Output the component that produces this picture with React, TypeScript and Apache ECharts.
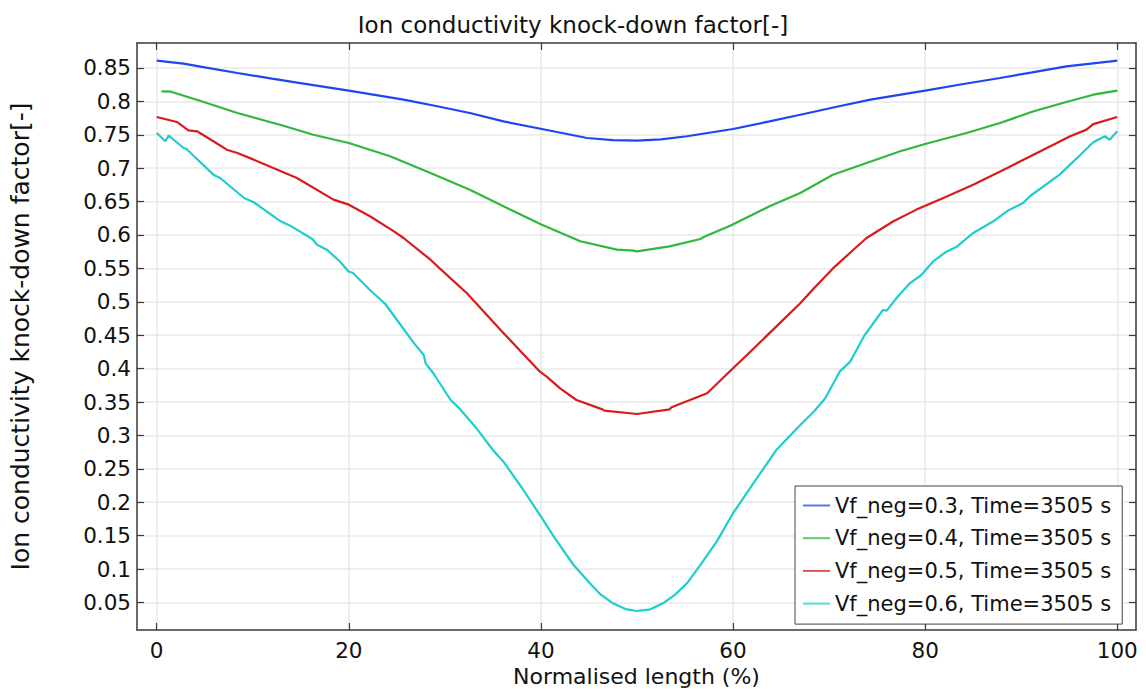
import React, { useEffect, useRef } from "react";
import * as echarts from "echarts";

const xTicks = [0, 20, 40, 60, 80, 100];
const yTicks = [0.05, 0.1, 0.15, 0.2, 0.25, 0.3, 0.35, 0.4, 0.45, 0.5, 0.55, 0.6, 0.65, 0.7, 0.75, 0.8, 0.85];

const seriesNames = [
  "Vf_neg=0.3, Time=3505 s",
  "Vf_neg=0.4, Time=3505 s",
  "Vf_neg=0.5, Time=3505 s",
  "Vf_neg=0.6, Time=3505 s",
];

const vf03: number[][] = [
  [0, 0.861], [2.8, 0.8565], [5, 0.851], [8.4, 0.8425], [12, 0.834], [15.3, 0.8265], [20, 0.816],
  [25.7, 0.8026], [29.2, 0.7927], [32.6, 0.7826], [36.1, 0.770], [40.1, 0.7587], [44.8, 0.7452],
  [47.5, 0.742], [50, 0.7412], [52.5, 0.743], [55.2, 0.7478], [60, 0.7587], [63.8, 0.770], [67, 0.780],
  [70.8, 0.792], [74.3, 0.8026], [80, 0.816], [84, 0.826], [87.8, 0.835], [91, 0.843], [94.7, 0.8525],
  [97.5, 0.857], [100, 0.861],
];

const vf04: number[][] = [
  [0.5, 0.815], [1.5, 0.8145], [4.9, 0.799], [8.4, 0.7826], [13.2, 0.7636], [16.3, 0.75], [20, 0.7377],
  [24.3, 0.7178], [28.5, 0.6928], [32.6, 0.6678], [36.1, 0.643], [40.1, 0.6154], [44.1, 0.5906],
  [47.9, 0.578], [49.6, 0.5765], [50, 0.5756], [53.4, 0.583], [56.6, 0.594], [57, 0.5975], [59.7, 0.614],
  [63.8, 0.643], [67, 0.6629], [70.4, 0.6903], [73.9, 0.7078], [77.4, 0.7253], [80, 0.7362],
  [84.3, 0.7527], [87.8, 0.7677], [91.3, 0.7852], [94.7, 0.799], [97.5, 0.81], [100, 0.816],
];

const vf05: number[][] = [
  [0, 0.7766], [2.1, 0.7692], [3.3, 0.7567], [4.2, 0.7552], [5.9, 0.7403], [7.3, 0.7277], [8.4, 0.7227],
  [10.1, 0.7128], [14.6, 0.6853], [18.4, 0.6529], [20, 0.6454], [22.2, 0.628], [24.7, 0.6055],
  [25.7, 0.5955], [28.5, 0.563], [30, 0.543], [32.3, 0.5127], [35.8, 0.4578], [39.9, 0.3954],
  [40.6, 0.388], [42, 0.3705], [43.7, 0.353], [46.4, 0.339], [46.6, 0.337], [50, 0.332], [53.4, 0.339],
  [53.6, 0.342], [57.3, 0.363], [60, 0.4004], [61.8, 0.4253], [65, 0.47], [67, 0.4978], [68.4, 0.52],
  [70.4, 0.55], [72.5, 0.5775], [73.9, 0.5955], [76.7, 0.6205], [79.1, 0.638], [81.9, 0.6554],
  [85, 0.6753], [88.5, 0.70], [92, 0.7253], [95.1, 0.7478], [96.8, 0.7577], [97.5, 0.766], [100, 0.7766],
];

const vf06: number[][] = [
  [0, 0.7527], [0.9, 0.7403], [1.25, 0.7487], [2.8, 0.7302], [3.1, 0.7287], [5.9, 0.6903], [6.6, 0.6853],
  [9.1, 0.6554], [10.1, 0.649], [12.9, 0.6205], [13.9, 0.614], [16.2, 0.594], [16.7, 0.5855],
  [17.7, 0.578], [19.1, 0.56], [20, 0.545], [20.4, 0.5435], [22.2, 0.5177], [23.8, 0.4967],
  [25.4, 0.4653], [26.8, 0.4378], [27.8, 0.4204], [28, 0.4079], [28.8, 0.393], [30.6, 0.353],
  [31.4, 0.342], [33.3, 0.3106], [35, 0.2781], [36.1, 0.2606], [38, 0.222], [39.9, 0.1808],
  [41.5, 0.145], [43.4, 0.106], [45.1, 0.0786], [46.2, 0.062], [47.5, 0.0486], [48.8, 0.04],
  [50, 0.0371], [51.4, 0.0397], [52.7, 0.0486], [54, 0.062], [55.2, 0.0786], [56.7, 0.108],
  [58.3, 0.141], [60, 0.1835], [62.2, 0.23], [64.5, 0.2781], [67, 0.3156], [68.4, 0.3355],
  [69.6, 0.3555], [71.1, 0.3954], [72.2, 0.4104], [73.6, 0.4478], [75.6, 0.4877], [76, 0.4867],
  [77, 0.5052], [78.4, 0.5277], [79.6, 0.5401], [80.8, 0.56], [82.2, 0.575], [83.3, 0.5825],
  [85, 0.603], [87.1, 0.6205], [88.5, 0.6355], [90.2, 0.648], [90.9, 0.658], [94, 0.6903],
  [95.8, 0.715], [97.5, 0.7388], [98.7, 0.7478], [99.2, 0.7427], [100, 0.7552],
];

const seriesData = [vf03, vf04, vf05, vf06];
const colors = ["#1f45f0", "#2fb83a", "#d81b1b", "#1fcdd0"];

const FONT = "DejaVu Sans";
const AXIS_COLOR = "#3a3a3a";
const GRID_COLOR = "#e8e8e8";

export default function App() {
  const ref = useRef<HTMLDivElement>(null);

  useEffect(() => {
    if (!ref.current) return;
    const chart = echarts.init(ref.current, undefined, { renderer: "svg" });

    const baseTick = {
      show: true,
      inside: true,
      length: 7,
      lineStyle: { color: AXIS_COLOR, width: 1.2 },
    };

    chart.setOption({
      animation: false,
      backgroundColor: "#ffffff",
      textStyle: { fontFamily: FONT },
      title: {
        text: "Ion conductivity knock-down factor[-]",
        left: "center",
        top: 8,
        textStyle: { fontFamily: FONT, fontSize: 23, fontWeight: "normal", color: "#111" },
      },
      grid: {
        left: 137,
        top: 43,
        right: 10,
        bottom: 59,
        containLabel: false,
        outerBoundsMode: "none",
      },
      legend: {
        orient: "vertical",
        left: 795,
        top: 486,
        padding: [9, 11, 10, 8],
        icon: "rect",
        itemWidth: 27,
        itemHeight: 2,
        itemGap: 11.7,
        itemStyle: { opacity: 0.75 },
        backgroundColor: "#ffffff",
        borderColor: "#444",
        borderWidth: 1,
        borderRadius: 0,
        textStyle: { fontFamily: FONT, fontSize: 21, color: "#111", lineHeight: 20 },
        data: seriesNames,
      },
      xAxis: [
        {
          type: "value",
          min: -2.05,
          max: 101.95,
          position: "bottom",
          name: "Normalised length (%)",
          nameLocation: "middle",
          nameGap: 28,
          nameTextStyle: { fontFamily: FONT, fontSize: 22, color: "#111", lineHeight: 22 },
          axisLine: { show: true, lineStyle: { color: AXIS_COLOR, width: 1.5 } },
          axisTick: { ...baseTick, customValues: xTicks },
          axisLabel: { customValues: xTicks, fontFamily: FONT, fontSize: 21.5, color: "#111", margin: 9 },
          splitLine: { show: true, lineStyle: { color: GRID_COLOR, width: 1.5 } },
        },
        {
          type: "value",
          min: -2.05,
          max: 101.95,
          position: "top",
          axisLine: { show: true, onZero: false, lineStyle: { color: AXIS_COLOR, width: 1.5 } },
          axisTick: { ...baseTick, customValues: xTicks },
          axisLabel: { show: false },
          splitLine: { show: false },
        },
      ],
      yAxis: [
        {
          type: "value",
          min: 0.0087,
          max: 0.8874,
          position: "left",
          name: "Ion conductivity knock-down factor[-]",
          nameLocation: "middle",
          nameGap: 104,
          nameTextStyle: { fontFamily: FONT, fontSize: 25, color: "#111" },
          axisLine: { show: true, onZero: false, lineStyle: { color: AXIS_COLOR, width: 1.5 } },
          axisTick: { ...baseTick, customValues: yTicks },
          axisLabel: { customValues: yTicks, fontFamily: FONT, fontSize: 21.5, color: "#111", margin: 6 },
          splitLine: { show: true, lineStyle: { color: GRID_COLOR, width: 1.5 } },
        },
        {
          type: "value",
          min: 0.0087,
          max: 0.8874,
          position: "right",
          axisLine: { show: true, onZero: false, lineStyle: { color: AXIS_COLOR, width: 1.5 } },
          axisTick: { ...baseTick, customValues: yTicks },
          axisLabel: { show: false },
          splitLine: { show: false },
        },
      ],
      series: seriesData.map((d, i) => ({
        name: seriesNames[i],
        type: "line",
        xAxisIndex: 0,
        yAxisIndex: 0,
        data: d,
        symbol: "none",
        showSymbol: false,
        color: colors[i],
        lineStyle: { color: colors[i], width: 2.2 },
        emphasis: { disabled: true },
        z: 3,
      })),
    });

    return () => {
      chart.dispose();
    };
  }, []);

  return (
    <div
      ref={ref}
      style={{ position: "fixed", left: 0, top: 0, width: 1146, height: 689 }}
    />
  );
}
